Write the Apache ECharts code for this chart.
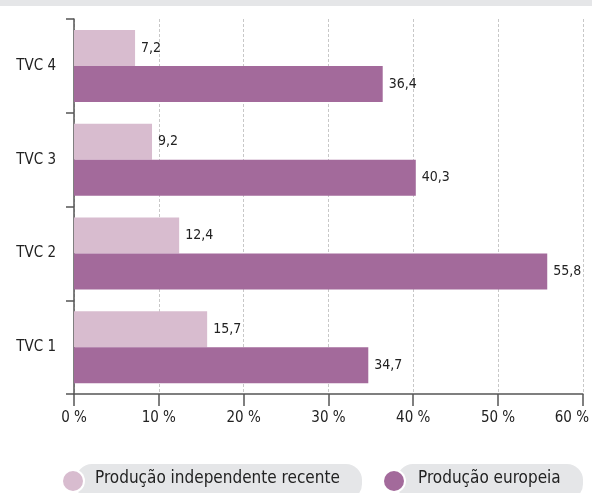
<!DOCTYPE html>
<html><head><meta charset="utf-8">
<script src="https://cdn.jsdelivr.net/npm/echarts@6/dist/echarts.min.js"></script>
<style>html,body{margin:0;padding:0;background:#fff}#c{width:592px;height:493px}</style>
</head><body><div id="c"></div>
<script>
var categories = ['TVC 1', 'TVC 2', 'TVC 3', 'TVC 4'];
var independente = [15.7, 12.4, 9.2, 7.2];
var europeia = [34.7, 55.8, 40.3, 36.4];
var seriesNames = ['Produção independente recente', 'Produção europeia'];
var xTicks = [0, 10, 20, 30, 40, 50, 60];

var FONT = '"Liberation Sans Narrow", "DejaVu Sans Condensed", sans-serif';
var LIGHT = '#d8bccf', DARK = '#a36a9b';
function fmt(v) { return String(v).replace('.', ','); }

var chart = echarts.init(document.getElementById('c'));
chart.setOption({
  animation: false,
  textStyle: { fontFamily: FONT },
  grid: { left: 74, right: 8.5, top: 19, bottom: 99, containLabel: false },
  xAxis: {
    type: 'value', min: xTicks[0], max: xTicks[xTicks.length - 1], interval: 10,
    axisLine: { show: true, lineStyle: { color: '#555', width: 1.5 } },
    axisTick: { show: true, length: 12, lineStyle: { color: '#555', width: 1.5 } },
    axisLabel: {
      margin: 17, fontSize: 15, color: '#222', fontFamily: FONT,
      formatter: function (v) { return v === 60 ? '{l|' + v + ' %}' : v + ' %'; },
      rich: { l: { fontSize: 15, color: '#222', fontFamily: FONT, padding: [0, 22, 0, 0] } }
    },
    splitLine: { show: true, lineStyle: { color: '#c8c8c8', type: [3, 2], width: 1 } }
  },
  yAxis: {
    type: 'category', data: categories,
    axisLine: { show: true, lineStyle: { color: '#555', width: 1.5 } },
    axisTick: { show: true, length: 8, lineStyle: { color: '#555', width: 1.5 } },
    axisLabel: { margin: 18, fontSize: 15, color: '#222', fontFamily: FONT }
  },
  legend: { show: false },
  series: [
    {
      name: seriesNames[0], type: 'bar', data: independente, barWidth: 36, barGap: '0%',
      itemStyle: { color: LIGHT },
      label: { show: true, position: 'right', distance: 6, fontSize: 14, color: '#222', fontFamily: FONT,
        formatter: function (p) { return fmt(p.value); } }
    },
    {
      name: seriesNames[1], type: 'bar', data: europeia, barWidth: 36, barGap: '0%',
      itemStyle: { color: DARK },
      label: { show: true, position: 'right', distance: 6, fontSize: 14, color: '#222', fontFamily: FONT,
        formatter: function (p) { return fmt(p.value); } }
    }
  ],
  graphic: [
    { type: 'rect', left: 0, top: 0, shape: { width: 592, height: 6 }, style: { fill: '#e5e6e8' }, z: 0 },
    { type: 'rect', left: 76, top: 464, shape: { width: 286, height: 36, r: 16 }, style: { fill: '#e5e6e8' }, z: 1 },
    { type: 'circle', shape: { cx: 73, cy: 481, r: 12 }, style: { fill: '#fff' }, z: 2 },
    { type: 'circle', shape: { cx: 73, cy: 481, r: 10 }, style: { fill: LIGHT }, z: 3 },
    { type: 'text', left: 95, top: 470, style: { text: seriesNames[0], font: '17px ' + FONT, fill: '#222' }, z: 4 },
    { type: 'rect', left: 397, top: 464, shape: { width: 186, height: 36, r: 16 }, style: { fill: '#e5e6e8' }, z: 1 },
    { type: 'circle', shape: { cx: 394, cy: 481, r: 12 }, style: { fill: '#fff' }, z: 2 },
    { type: 'circle', shape: { cx: 394, cy: 481, r: 10 }, style: { fill: DARK }, z: 3 },
    { type: 'text', left: 418, top: 470, style: { text: seriesNames[1], font: '17px ' + FONT, fill: '#222' }, z: 4 }
  ]
});
</script></body></html>
